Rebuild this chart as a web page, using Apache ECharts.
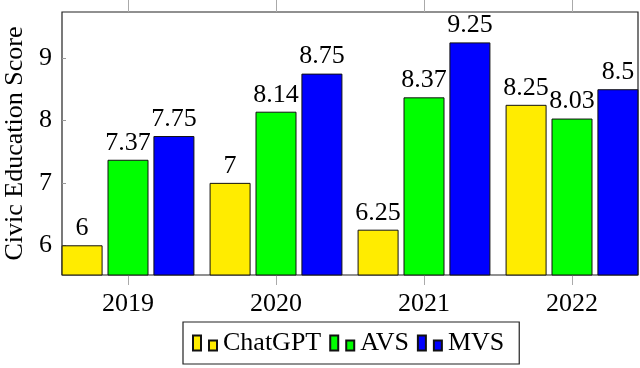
<!DOCTYPE html>
<html>
<head>
    <meta charset="utf-8">
    <title>Civic Education Score</title>
    <script src="https://cdn.jsdelivr.net/npm/echarts@6/dist/echarts.min.js"></script>
</head>
<body style="margin:0">
    <div id="main" style="width: 640px;height:368px;"></div>
    <script type="text/javascript">
        // data
        var years = ['2019', '2020', '2021', '2022'];
        var chatgpt = [6, 7, 6.25, 8.25];
        var avs = [7.37, 8.14, 8.37, 8.03];
        var mvs = [7.75, 8.75, 9.25, 8.5];

        var yMin = 5.524, yMax = 9.737;
        var font = '"Liberation Serif", "Times New Roman", serif';
        var legendIcon = 'path://M0,0h8v15h-8z M16,5h8v10h-8z';

        var myChart = echarts.init(document.getElementById('main'));

        function bar(name, data, color) {
            return {
                name: name,
                type: 'bar',
                xAxisIndex: 0,
                yAxisIndex: 0,
                data: data,
                barWidth: 41,
                barGap: '12%',
                itemStyle: { color: color, borderColor: '#111', borderWidth: 1 },
                label: {
                    show: true,
                    position: 'top',
                    distance: 4,
                    color: '#000',
                    fontFamily: font,
                    fontSize: 26
                }
            };
        }

        myChart.setOption({
            animation: false,
            textStyle: { fontFamily: font },
            grid: [
                // grid for the bars (wider, so the category centres line up)
                { left: 54, right: -6, top: 12, bottom: 93, outerBoundsMode: 'none' },
                // grid for the frame and y axis
                { left: 62, right: 2, top: 12, bottom: 93, show: true, outerBoundsMode: 'none',
                  borderColor: '#222', borderWidth: 1.2, backgroundColor: 'transparent' }
            ],
            legend: {
                data: ['ChatGPT', 'AVS', 'MVS'],
                left: 183,
                top: 322,
                icon: legendIcon,
                itemWidth: 24,
                itemHeight: 15,
                itemGap: 8,
                padding: [8, 15, 8, 9],
                borderColor: '#222',
                borderWidth: 1.2,
                textStyle: { fontFamily: font, fontSize: 26, color: '#000', padding: [0, 0, 0, 1] }
            },
            xAxis: [
                {
                    type: 'category', gridIndex: 0, data: years, position: 'bottom',
                    axisLine: { show: false },
                    axisTick: { show: true, alignWithLabel: true, inside: false, length: 10,
                                lineStyle: { color: '#aaa' } },
                    axisLabel: { color: '#000', fontSize: 26, fontFamily: font, margin: 16 }
                },
                {
                    type: 'category', gridIndex: 0, data: years, position: 'top',
                    axisLine: { show: false },
                    axisTick: { show: true, alignWithLabel: true, length: 12,
                                lineStyle: { color: '#aaa' } },
                    axisLabel: { show: false }
                },
                {
                    type: 'category', gridIndex: 1, data: years, show: false
                }
            ],
            yAxis: [
                {
                    type: 'value', gridIndex: 0, min: yMin, max: yMax, show: false
                },
                {
                    type: 'value', gridIndex: 1, min: yMin, max: yMax,
                    name: 'Civic Education Score',
                    nameLocation: 'middle',
                    nameGap: 30,
                    nameTextStyle: { fontFamily: font, fontSize: 26, color: '#000' },
                    splitLine: { show: false },
                    axisLine: { show: false },
                    axisTick: { show: true, inside: true, length: 4, lineStyle: { color: '#999' } },
                    axisLabel: {
                        color: '#000', fontSize: 26, fontFamily: font, margin: 10,
                        showMinLabel: false, showMaxLabel: false,
                        formatter: function (v) { return Number.isInteger(v) ? String(v) : ''; }
                    }
                }
            ],
            series: [
                bar('ChatGPT', chatgpt, '#ffec00'),
                bar('AVS', avs, '#00ff00'),
                bar('MVS', mvs, '#0000ff')
            ]
        });
    </script>
</body>
</html>
